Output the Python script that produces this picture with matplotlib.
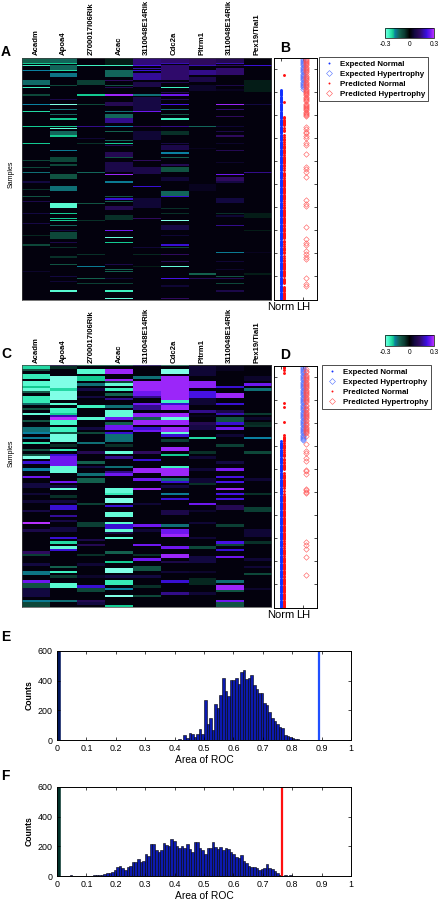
import numpy as np
import matplotlib
matplotlib.use("Agg")
import matplotlib.pyplot as plt
from matplotlib.colors import LinearSegmentedColormap
from matplotlib.lines import Line2D

plt.rcParams["font.family"] = ["Liberation Sans", "DejaVu Sans"]

W, H = 440, 900
N_ROWS = 100
N_SAMPLES = 210

GENES = ["Acadm", "Apoa4", "2700017I06Rik", "Acac", "3110048E14Rik",
         "Cdc2a", "Pltrm1", "3110048E14Rik", "Pex19/Tial1"]

# heat map bands, one list per gene: (row, value) or (first row, last row, value)
A_ACADM = [(0, 1, -.12), (2, -.2), (3, -.25), (5, -.18), (9, 10, -.14), (12, -.25), (15, -.08), (19, -.18),
           (22, -.22), (28, -.2), (35, -.2), (42, -.08), (45, -.08), (47, -.15), (51, .06), (54, -.05),
           (57, -.1), (59, .08), (64, .06), (68, .07), (73, -.04), (77, -.08), (88, .04)]
A_APOA4 = [(0, 1, -.13), (2, -.2), (3, 4, -.13), (5, -.22), (6, 7, -.16), (11, -.08), (17, .08), (19, -.3),
           (21, -.15), (23, -.13), (25, -.2), (28, -.2), (29, -.28), (30, 31, -.13), (32, -.2), (38, -.17),
           (41, 42, -.08), (44, -.08), (48, 49, -.1), (53, 54, -.15), (60, 61, -.27), (64, -.2), (66, -.2),
           (67, -.2), (69, -.13), (71, .06), (72, 74, -.08), (76, .08), (78, -.05), (82, -.05), (85, -.1),
           (90, .06), (92, .05), (96, -.27)]
A_RIK27 = [(3, -.25), (9, 10, -.07), (15, -.2), (19, -.08), (28, .15), (33, .05), (35, -.05), (47, -.13),
           (60, -.1), (67, -.05), (81, -.05), (86, -.17), (91, -.12), (93, -.07)]
A_ACAC = [(0, 2, -.03), (3, -.25), (5, 7, -.13), (9, .12), (11, -.1), (12, .1), (15, .28), (18, 19, .1),
          (22, -.15), (23, 24, -.13), (25, 26, .15), (28, -.18), (30, -.12), (34, -.13), (35, -.2), (36, .1),
          (39, 40, .1), (41, -.1), (43, 46, .08), (48, .28), (51, -.17), (57, -.1), (58, .2), (59, -.12),
          (61, 62, .1), (65, 66, -.05), (71, .25), (74, -.28), (76, -.2), (85, .08), (87, -.12), (88, -.12),
          (91, .05), (93, -.07), (96, -.25), (99, -.28)]
A_RIK31 = [(0, 2, .14), (3, .22), (4, .17), (5, .2), (6, 8, .16), (10, 11, .08), (15, -.15), (16, 21, .07),
           (22, .25), (28, .12), (30, 33, .05), (42, .12), (45, 47, .08), (53, .2), (58, 61, .05), (66, .12),
           (78, .05), (81, -.04), (86, -.03)]
A_CDC2A = [(0, 1, .13), (2, .18), (3, 8, .13), (10, .1), (12, -.25), (14, .1), (15, .25), (17, .1), (19, .22),
           (21, -.15), (23, -.1), (25, -.25), (28, .15), (30, 31, -.05), (35, .07), (36, 37, .08), (39, -.18),
           (41, -.12), (44, .1), (45, 46, -.1), (49, 50, .05), (55, 56, -.13), (57, .2), (62, -.05), (64, -.05),
           (67, -.3), (69, 70, .07), (73, .05), (77, .2), (78, -.08), (81, .12), (84, .1), (86, -.28), (91, .22),
           (94, .05), (99, .12)]
A_PLTRM1 = [(0, 2, .12), (3, .18), (5, 6, .15), (8, 9, .08), (11, 12, .04), (13, .04), (28, -.13), (37, .03),
            (52, 54, .03), (89, -.12), (91, .1)]
A_RIK31B = [(0, 1, .1), (2, .18), (3, .12), (4, 6, .13), (11, .08), (13, .03), (19, .28), (21, .13), (24, .12),
            (28, .05), (30, .08), (32, .12), (35, .04), (38, .1), (43, .04), (48, .25), (49, 50, .12), (51, .07),
            (58, 59, .06), (64, -.05), (65, .05), (69, .15), (80, -.17), (84, .05), (87, .04), (90, -.1), (91, .1),
            (93, -.08), (96, .08)]
A_PEX19 = [(3, .2), (9, 13, -.03), (19, .06), (47, .15), (64, 65, -.03), (71, -.03), (80, .03), (89, -.03)]

C_ACADM = [(0, 1, -.22), (2, -.1), (4, 5, -.24), (7, 8, -.27), (9, -.2), (10, -.28), (11, -.12), (13, 15, -.24),
           (16, -.14), (18, -.1), (20, -.28), (23, -.1), (26, 27, -.15), (28, -.18), (30, -.17), (32, -.23),
           (35, -.1), (37, -.1), (38, -.3), (40, .2), (43, -.18), (46, .25), (49, 50, .06), (53, .05), (56, .05),
           (60, .07), (65, .3), (68, .08), (77, .12), (78, -.07), (82, .06), (85, 86, -.16), (89, .25),
           (90, 91, -.1), (92, 95, .06), (97, -.17), (98, 99, -.08)]
C_APOA4 = [(0, .15), (1, -.05), (5, 9, -.3), (10, -.22), (11, 14, -.3), (16, -.27), (18, 19, -.25), (20, -.2),
           (21, .18), (22, .3), (23, 24, -.26), (26, 27, -.25), (28, -.1), (29, 31, -.29), (33, -.05), (35, -.24),
           (37, .2), (38, 41, .25), (42, 44, -.28), (48, .25), (50, .06), (51, -.28), (54, -.05), (56, .06),
           (58, 59, .2), (62, .16), (64, .07), (67, 68, .06), (71, .2), (73, -.22), (75, -.28), (76, .2),
           (83, -.12), (85, -.25), (87, -.06), (90, 91, -.27), (97, -.15)]
C_RIK27 = [(0, -.2), (2, 3, -.27), (5, -.2), (6, -.2), (8, -.15), (10, .07), (13, .06), (17, -.25), (22, -.27),
           (26, .06), (28, -.08), (32, -.15), (36, .1), (40, -.12), (42, .06), (45, -.15), (47, 48, -.12),
           (57, -.07), (65, 66, -.07), (72, .08), (74, .1), (78, -.05), (82, .05), (87, .04), (91, .2),
           (92, 93, -.08), (97, .1), (98, .06)]
C_ACAC = [(0, -.2), (2, 3, .28), (6, .28), (7, -.08), (8, -.28), (10, -.25), (12, -.12), (14, .15), (17, -.15),
          (19, 21, -.28), (22, .25), (24, -.12), (25, 26, .25), (28, .2), (29, 31, -.15), (33, -.05), (36, -.28),
          (38, .15), (42, -.15), (44, .15), (45, .25), (51, 52, -.28), (53, -.24), (55, 56, -.3), (58, .2),
          (61, 62, -.28), (65, -.27), (66, 67, .2), (68, -.28), (69, .07), (71, -.27), (77, -.12), (81, -.2),
          (84, 85, -.3), (87, .06), (89, 90, -.24), (92, -.18), (95, -.3), (99, -.2)]
C_RIK31 = [(0, .2), (5, -.15), (7, 10, .28), (11, 12, .25), (13, .15), (16, .25), (17, 18, .15), (20, 21, .27),
           (22, -.12), (23, 24, .28), (26, .2), (27, .25), (36, .12), (39, .2), (43, 44, .28), (47, .25), (51, .28),
           (57, .05), (66, .25), (68, .05), (74, .25), (78, -.05), (80, .25), (83, 84, -.1), (87, .06), (91, -.05),
           (95, -.08)]
C_CDC2A = [(0, -.25), (2, 3, -.3), (5, 14, .28), (15, -.25), (16, .2), (17, 18, .28), (20, 21, .28), (22, -.28),
           (23, 24, .28), (26, 27, .28), (28, -.28), (29, .2), (31, -.07), (34, 35, .28), (37, -.2), (42, -.25),
           (43, 45, .28), (47, -.15), (48, .2), (50, .06), (53, -.17), (55, .2), (60, 61, .08), (66, -.15),
           (68, 69, .25), (70, .28), (75, .25), (78, 79, .28), (81, .08), (85, .05), (89, .2), (94, .15)]
C_PLTRM1 = [(1, 4, .05), (7, 9, .27), (11, 13, .22), (14, 16, .05), (19, .15), (21, .03), (24, .1), (25, 26, .07),
            (30, -.22), (36, -.05), (38, .05), (43, .05), (47, 48, .05), (49, -.05), (57, .25), (60, .04),
            (65, .05), (71, .05), (75, -.08), (79, 81, .06), (85, .04), (88, 90, -.04), (94, .05)]
C_RIK31B = [(0, 2, .03), (9, .2), (12, 13, .28), (16, .2), (19, .08), (20, .18), (22, 23, -.1), (24, .2), (26, .25),
            (29, .05), (33, -.07), (40, .06), (43, .26), (46, .22), (48, .22), (51, .28), (53, .22), (55, .22),
            (58, 59, .1), (66, -.07), (73, .22), (74, -.08), (76, .2), (79, .25), (89, -.15), (91, 92, .28),
            (93, -.1), (97, .25), (98, 99, -.1)]
C_PEX19 = [(5, 6, .04), (8, .25), (10, -.15), (20, -.06), (22, .04), (24, -.04), (25, -.05), (30, -.18),
           (36, -.08), (47, .05), (53, -.05), (59, 60, -.07), (68, 70, .05), (73, -.05), (80, .05), (83, .05),
           (86, -.08), (92, .04)]

# samples of each class, panels B and D
B_N_EXPECTED_LH = 27
B_PRED_LH = [1, 2, 3, 4, 5, 6, 7, 8, 9, 10, 11, 12, 13, 14, 16, 17, 18, 19, 20, 21, 22, 23, 24, 25, 26, 27,
             28, 29, 30, 31, 32, 33, 34, 35, 36, 37, 38, 40, 41, 42, 43, 44, 45, 46, 47, 48, 49, 50, 51,
             60, 62, 65, 66, 68, 70, 74, 76, 84, 95, 97, 99, 104, 124, 127, 129, 147, 158, 161, 163,
             168, 171, 173, 175, 191, 197, 198]
D_N_EXPECTED_LH = 65
D_PRED_LH = [3, 5, 6, 8, 9, 10, 11, 12, 13, 14, 15, 16, 17, 18, 19, 20, 21, 22, 23, 24, 25, 26, 27, 28, 29, 30,
             31, 32, 34, 35, 37, 38, 39, 40, 41, 42, 43, 44, 45, 46, 47, 48, 50, 51, 52, 53, 54, 55, 56, 57, 58,
             59, 61, 68, 74, 76, 80, 83, 91, 92, 94, 107, 108, 110, 111, 153, 156, 159, 166, 182]

# histograms of the area under the ROC curve
ROC_BINS = 114
E_COUNTS = [650] + [0] * 46 + [5, 0, 35, 12, 45, 38, 22, 40, 75, 42, 268, 110, 145, 70, 240, 215, 305, 415, 330,
                               295, 405, 405, 415, 375, 460, 470, 410, 415, 435, 370, 345, 315, 320, 250, 235,
                               190, 150, 130, 105, 90, 80, 35, 25, 18, 15, 10, 8, 3, 2]
F_COUNTS = [650] + [0] * 4 + [5] + [0] * 5 + [2, 3, 3, 4, 5, 8, 10, 12, 18, 18, 25, 38, 62, 68, 55, 40, 60, 65, 92,
                                              92, 115, 95, 100, 145, 135, 215, 218, 175, 165, 175, 220, 210, 205, 248,
                                              235, 205, 190, 200, 190, 215, 180, 165, 228, 228, 190, 175, 150, 190, 190,
                                              230, 195, 180, 195, 175, 190, 180, 165, 150, 125, 120, 140, 100, 85, 70,
                                              60, 58, 55, 38, 45, 55, 78, 55, 50, 35, 20, 8, 3, 8, 3, 6, 2]
E_LINE = 0.89
F_LINE = 0.765

cmap = LinearSegmentedColormap.from_list("cyan_purple", [
    (0.00, "#80ffe6"), (0.07, "#45f8c8"), (0.167, "#12c890"), (0.20, "#0a80a0"), (0.30, "#14604c"), (0.40, "#0a3a30"),
    (0.50, "#000000"), (0.60, "#120840"), (0.70, "#2e0a5c"), (0.85, "#3a10e0"), (0.92, "#7018f0"), (1.00, "#b830ff")])

fig = plt.figure(figsize=(W / 100, H / 100), dpi=100)


def px_axes(x0, y0, x1, y1):
    return fig.add_axes([x0 / W, 1 - y1 / H, (x1 - x0) / W, (y1 - y0) / H])


def px_text(x, y, s, **kw):
    fig.text(x / W, 1 - y / H, s, **kw)


def heat_panel(columns, box, label_y, samples_y, thin):
    # each row is split in two so that the single lines of panel A can stay thin
    matrix = np.full((N_ROWS * 2, len(columns)), 0.012)
    for j, bands in enumerate(columns):
        for band in bands:
            if len(band) == 3:
                matrix[band[0] * 2:band[1] * 2 + 2, j] = band[2]
            else:
                matrix[band[0] * 2:band[0] * 2 + thin, j] = band[1]
    ax = px_axes(*box)
    im = ax.imshow(matrix, cmap=cmap, vmin=-.3, vmax=.3, aspect="auto", interpolation="nearest")
    ax.set_xticks([])
    ax.set_yticks([])
    for s in ax.spines.values():
        s.set_linewidth(0.5)
        s.set_color("#404040")
    for j, g in enumerate(GENES):
        x = box[0] + (j + .5) * (box[2] - box[0]) / len(GENES)
        px_text(x, label_y, g, rotation=90, ha="center", va="bottom", fontsize=5.6, fontweight="bold")
    px_text(11, samples_y, "Samples", rotation=90, ha="center", va="center", fontsize=5)
    return im


def class_panel(n_lh, pred_lh, box):
    ax = px_axes(*box)
    samples = np.arange(1, N_SAMPLES + 1)
    pred_lh = np.array(pred_lh)
    pred_norm = samples[~np.isin(samples, pred_lh)]
    ax.plot(np.ones(N_SAMPLES - n_lh), samples[n_lh:], ".", color="#1030ff", ms=4.2, mew=0)
    ax.plot(np.full(n_lh, 2), samples[:n_lh], "D", mfc="none", mec="#5070ff", ms=2.8, mew=0.4)
    ax.plot(np.full(len(pred_norm), 1.15), pred_norm, ".", color="#ff1010", ms=4.2, mew=0)
    ax.plot(np.full(len(pred_lh), 2.14), pred_lh, "D", mfc="none", mec="#ff5050", ms=2.8, mew=0.4)
    ax.set_xlim(0.67, 2.65)
    ax.set_ylim(N_SAMPLES + 0.5, 0.5)
    ax.set_xticks([1, 2], ["Norm", "LH"], fontsize=8)
    ax.set_yticks(np.arange(10, N_SAMPLES, 20), [])
    ax.tick_params(direction="in", length=2, width=0.5, right=True, top=True, pad=1.5)
    for s in ax.spines.values():
        s.set_linewidth(0.7)
    return ax


def class_legend(ax, anchor):
    handles = [
        Line2D([], [], ls="", marker=".", color="#1030ff", ms=2.8, mew=0),
        Line2D([], [], ls="", marker="D", mfc="none", mec="#5070ff", ms=3, mew=0.4),
        Line2D([], [], ls="", marker=".", color="#ff1010", ms=2.8, mew=0),
        Line2D([], [], ls="", marker="D", mfc="none", mec="#ff5050", ms=3, mew=0.4),
    ]
    labels = ["Expected Normal", "Expected Hypertrophy", "Predicted Normal", "Predicted Hypertrophy"]
    leg = ax.legend(handles, labels, loc="upper left", bbox_to_anchor=(anchor[0] / W, 1 - anchor[1] / H),
                    bbox_transform=fig.transFigure, fancybox=False, framealpha=1, edgecolor="#303030",
                    borderaxespad=0, borderpad=0.4, labelspacing=0.32, handletextpad=0.6, handlelength=1.6,
                    prop={"size": 5.7, "weight": "bold"})
    leg.get_frame().set_linewidth(0.6)


def color_key(im, box):
    cax = px_axes(*box)
    bar = fig.colorbar(im, cax=cax, orientation="horizontal", ticks=[-.3, 0, .3])
    bar.ax.set_xticklabels(["-0.3", "0", "0.3"], fontsize=4.8)
    bar.ax.tick_params(length=0, pad=2)
    bar.outline.set_linewidth(0.5)


def roc_hist(counts, box, line_x, line_color, zero_color):
    ax = px_axes(*box)
    edges = np.linspace(0, 1, ROC_BINS + 1)
    centres = (edges[:-1] + edges[1:]) / 2
    bars = ax.bar(centres[:len(counts)], counts, width=edges[1], color="#0c1ab0", edgecolor="black", linewidth=0.4)
    bars[0].set_color(zero_color)
    ax.axvline(line_x, color=line_color, lw=1.6)
    ax.set_xlim(0, 1)
    ax.set_ylim(0, 600)
    ax.set_xticks(np.arange(0, 1.01, .1), ["0", "0.1", "0.2", "0.3", "0.4", "0.5", "0.6", "0.7", "0.8", "0.9", "1"],
                  fontsize=6.4)
    ax.set_yticks([0, 200, 400, 600], ["0", "200", "400", "600"], fontsize=6.4)
    ax.tick_params(direction="in", length=2, width=0.5, right=True, top=True, pad=3)
    ax.set_xlabel("Area of ROC", fontsize=7.4, labelpad=1)
    ax.set_ylabel("Counts", fontsize=6.2, fontweight="bold", labelpad=3)
    for s in ax.spines.values():
        s.set_linewidth(0.7)


A_COLUMNS = [A_ACADM, A_APOA4, A_RIK27, A_ACAC, A_RIK31, A_CDC2A, A_PLTRM1, A_RIK31B, A_PEX19]
C_COLUMNS = [C_ACADM, C_APOA4, C_RIK27, C_ACAC, C_RIK31, C_CDC2A, C_PLTRM1, C_RIK31B, C_PEX19]

im_a = heat_panel(A_COLUMNS, (22, 58, 271, 300), 55, 174, 1)
im_c = heat_panel(C_COLUMNS, (22, 365, 271, 607), 363, 453, 2)

ax_b = class_panel(B_N_EXPECTED_LH, B_PRED_LH, (273.5, 58, 317, 300))
ax_d = class_panel(D_N_EXPECTED_LH, D_PRED_LH, (273.5, 366, 317, 608))
class_legend(ax_b, (319, 57))
class_legend(ax_d, (322, 365))

color_key(im_a, (385, 28, 434, 38))
color_key(im_c, (385, 335, 434, 346))

roc_hist(E_COUNTS, (57, 651, 351, 740), E_LINE, "#2050ff", "#00145a")
roc_hist(F_COUNTS, (57, 787, 351, 876), F_LINE, "#ff1010", "#003028")

for letter, x, y in [("A", 1, 52), ("B", 280, 48), ("C", 1, 354), ("D", 280, 355), ("E", 1, 637), ("F", 1, 776)]:
    px_text(x, y, letter, fontsize=10, fontweight="bold", va="center", ha="left")

fig.savefig("out.png", dpi=100)
